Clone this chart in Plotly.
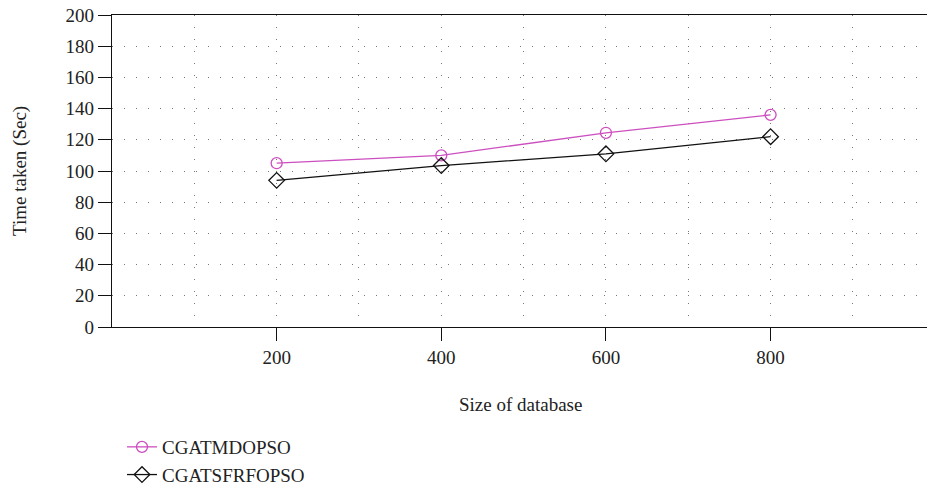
import plotly.graph_objects as go

sizes = [200, 400, 600, 800]
cgatmdopso = [105, 110, 124.5, 136]
cgatsfrfopso = [94, 103.5, 111, 122]
x_ticks = [200, 400, 600, 800]
series_names = ["CGATMDOPSO", "CGATSFRFOPSO"]

FONT = "Liberation Serif"
FS = 19
W, H = 927, 492
L, R, T, B = 112, 0, 15, 165
pw = W - L - R
ph = H - T - B

fig = go.Figure()
fig.add_trace(go.Scatter(
    x=sizes, y=cgatmdopso, name=series_names[0], mode="lines+markers",
    line=dict(color="#cc4fbf", width=1.3),
    marker=dict(symbol="circle-open", size=11, color="#cc4fbf", line=dict(width=1.3)),
))
fig.add_trace(go.Scatter(
    x=sizes, y=cgatsfrfopso, name=series_names[1], mode="lines+markers",
    line=dict(color="#111111", width=1.3),
    marker=dict(symbol="diamond-open", size=12, color="#111111", line=dict(width=1.3)),
))

grid = dict(gridcolor="#777777", gridwidth=1, griddash="1px,11px")

fig.update_layout(
    width=W, height=H, autosize=False,
    margin=dict(l=L, r=R, t=T, b=B, pad=0, autoexpand=False),
    paper_bgcolor="white", plot_bgcolor="white",
    font=dict(family=FONT, size=FS, color="#222222"),
    showlegend=True,
    legend=dict(x=(122 - L) / pw, y=-(428 - T - ph) / ph, xanchor="left", yanchor="top",
                font=dict(family=FONT, size=FS, color="#222222"),
                bgcolor="rgba(0,0,0,0)", tracegroupgap=0, itemwidth=30),
    xaxis=dict(
        range=[0, 990], tickvals=x_ticks, ticks="outside", ticklen=13, tickwidth=1.3,
        tickcolor="#111111", showline=True, linecolor="#111111", linewidth=1.3, mirror=True,
        showgrid=True, zeroline=False, automargin=False, **grid,
        minor=dict(tick0=0, dtick=100, showgrid=True, ticks="", **grid),
        tickfont=dict(family=FONT, size=FS),
    ),
    yaxis=dict(
        range=[0, 200], dtick=20, tick0=0, ticks="outside", ticklen=13, tickwidth=1.3,
        tickcolor="#111111", showline=True, linecolor="#111111", linewidth=1.3, mirror=False,
        showgrid=True, zeroline=False, automargin=False, **grid,
        tickfont=dict(family=FONT, size=FS),
    ),
    annotations=[
        dict(text="Size of database", xref="paper", yref="paper",
             x=(520 - L) / pw, y=-(404 - T - ph) / ph, showarrow=False,
             xanchor="center", yanchor="middle", font=dict(family=FONT, size=FS)),
        dict(text="Time taken (Sec)", xref="paper", yref="paper",
             x=(20 - L) / pw, y=0.5, showarrow=False, textangle=-90,
             xanchor="center", yanchor="middle", font=dict(family=FONT, size=FS)),
    ],
)

fig.write_html("out.html", config={"displayModeBar": False},
               post_script="document.body.style.margin='0';document.body.style.overflow='hidden';")
